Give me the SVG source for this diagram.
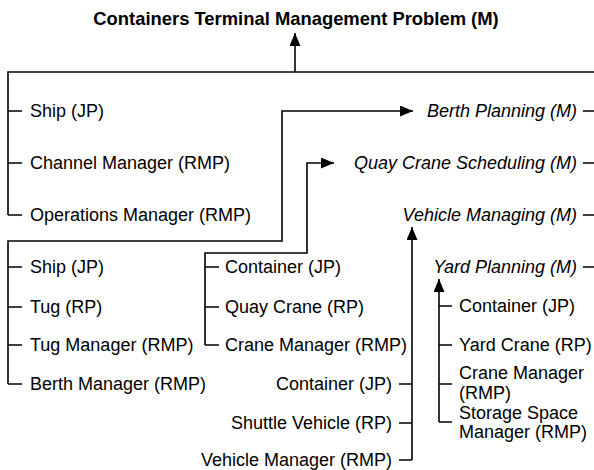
<svg xmlns="http://www.w3.org/2000/svg" width="594" height="470" viewBox="0 0 594 470">
  <style>
    .t { font-family: "Liberation Sans", Arial, sans-serif; font-size: 18px; fill: #000; }
    .b { font-weight: bold; font-size: 18.4px; }
    .i { font-style: italic; }
    .e { text-anchor: end; }
    .ln { fill: none; stroke: #000; stroke-width: 1.6; }
  </style>
  <defs>
    <marker id="arr" viewBox="0 0 13 11" refX="13" refY="5.5" markerWidth="13" markerHeight="11" markerUnits="userSpaceOnUse" orient="auto">
      <path d="M0,0 L13,5.5 L0,11 Z" fill="#000"/>
    </marker>
  </defs>

  <rect width="594" height="470" fill="#fff"/>

  <g id="connectors">
    <!-- top bus feeding the root problem -->
    <path class="ln" d="M295,72 V33" marker-end="url(#arr)"/>
    <path class="ln" d="M8,215 V72 H600"/>
    <path class="ln" d="M8,111 H22 M8,163 H22 M8,215 H22"/>
    <!-- right side ticks of sub-problems -->
    <path class="ln" d="M583,111 H600 M583,163 H600 M583,215 H600 M583,267 H600"/>
    <!-- berth planning agents -->
    <path class="ln" d="M8,384 V241 H282 V111 H413" marker-end="url(#arr)"/>
    <path class="ln" d="M8,267 H22 M8,307 H22 M8,345 H22 M8,384 H22"/>
    <!-- quay crane agents -->
    <path class="ln" d="M205,345 V253 H307 V163 H334" marker-end="url(#arr)"/>
    <path class="ln" d="M205,267 H219 M205,307 H219 M205,345 H219"/>
    <!-- vehicle agents -->
    <path class="ln" d="M412,460 V227" marker-end="url(#arr)"/>
    <path class="ln" d="M399,384 H412 M399,423 H412 M399,460 H412"/>
    <!-- yard agents -->
    <path class="ln" d="M439,422 V279" marker-end="url(#arr)"/>
    <path class="ln" d="M439,306 H452 M439,345 H452 M439,384 H452 M439,422 H452"/>
  </g>

  <g id="root"><text class="t b" x="296" y="25" text-anchor="middle">Containers Terminal Management Problem (M)</text></g>

  <g id="top-ship"><text class="t" x="30" y="117">Ship (JP)</text></g>
  <g id="channel-manager"><text class="t" x="30" y="169">Channel Manager (RMP)</text></g>
  <g id="operations-manager"><text class="t" x="30" y="221">Operations Manager (RMP)</text></g>

  <g id="berth-planning"><text class="t i e" x="577" y="117">Berth Planning (M)</text></g>
  <g id="quay-crane-scheduling"><text class="t i e" x="577" y="169">Quay Crane Scheduling (M)</text></g>
  <g id="vehicle-managing"><text class="t i e" x="577" y="221">Vehicle Managing (M)</text></g>
  <g id="yard-planning"><text class="t i e" x="577" y="273">Yard Planning (M)</text></g>

  <g id="berth-ship"><text class="t" x="30" y="273">Ship (JP)</text></g>
  <g id="tug"><text class="t" x="30" y="313">Tug (RP)</text></g>
  <g id="tug-manager"><text class="t" x="30" y="351">Tug Manager (RMP)</text></g>
  <g id="berth-manager"><text class="t" x="30" y="390">Berth Manager (RMP)</text></g>

  <g id="quay-container"><text class="t" x="225" y="273">Container (JP)</text></g>
  <g id="quay-crane"><text class="t" x="225" y="313">Quay Crane (RP)</text></g>
  <g id="quay-crane-manager"><text class="t" x="225" y="351">Crane Manager (RMP)</text></g>

  <g id="vehicle-container"><text class="t e" x="392" y="390">Container (JP)</text></g>
  <g id="shuttle-vehicle"><text class="t e" x="392" y="429">Shuttle Vehicle (RP)</text></g>
  <g id="vehicle-manager"><text class="t e" x="392" y="466">Vehicle Manager (RMP)</text></g>

  <g id="yard-container"><text class="t" x="459" y="312">Container (JP)</text></g>
  <g id="yard-crane"><text class="t" x="459" y="351">Yard Crane (RP)</text></g>
  <g id="yard-crane-manager"><text class="t" x="459" y="379">Crane Manager</text><text class="t" x="459" y="399">(RMP)</text></g>
  <g id="storage-space-manager"><text class="t" x="459" y="419">Storage Space</text><text class="t" x="459" y="438">Manager (RMP)</text></g>
</svg>
